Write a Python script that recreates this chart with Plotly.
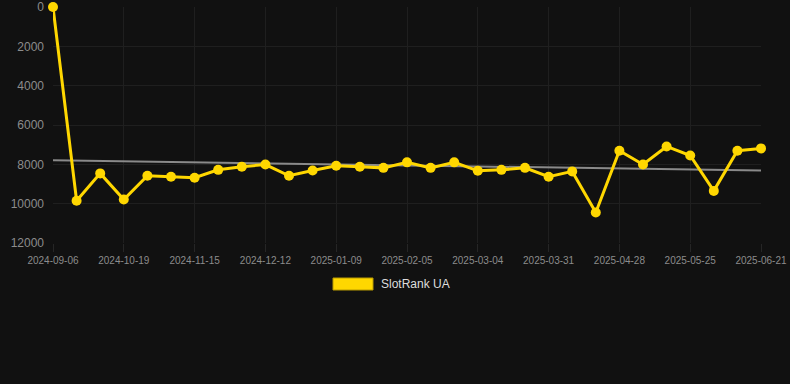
import plotly.graph_objects as go
import numpy as np

dates = ["2024-09-06","2024-09-20","2024-10-05","2024-10-19","2024-10-28","2024-11-06",
         "2024-11-15","2024-11-24","2024-12-03","2024-12-12","2024-12-21","2024-12-31",
         "2025-01-09","2025-01-18","2025-01-27","2025-02-05","2025-02-14","2025-02-23",
         "2025-03-04","2025-03-13","2025-03-22","2025-03-31","2025-04-09","2025-04-19",
         "2025-04-28","2025-05-07","2025-05-16","2025-05-25","2025-06-03","2025-06-12",
         "2025-06-21"]
rank = [0, 9850, 8460, 9790, 8580, 8630, 8680, 8280, 8120, 8010, 8580, 8310,
        8070, 8120, 8180, 7900, 8180, 7900, 8330, 8280, 8180, 8630, 8360, 10450,
        7310, 8010, 7090, 7550, 9350, 7310, 7190]
series_name = "SlotRank UA"
yticks = [0, 2000, 4000, 6000, 8000, 10000, 12000]
ytick_text = ["0", "2000", "4000", "6000", "8000", "10000", "12000"]

idx = np.arange(len(rank))
slope, intercept = np.polyfit(idx, rank, 1)
trend = slope * idx + intercept

fig = go.Figure()
fig.add_trace(go.Scatter(x=dates, y=trend, mode="lines",
                         line=dict(color="#8a8a8a", width=2), showlegend=False, hoverinfo="skip"))
fig.add_trace(go.Scatter(x=dates, y=rank, mode="lines+markers", name=series_name,
                         line=dict(color="#FFD700", width=3), cliponaxis=False,
                         marker=dict(color="#FFD700", size=10), showlegend=False))

fig.update_layout(
    width=790, height=384,
    paper_bgcolor="#111111", plot_bgcolor="#111111",
    margin=dict(l=53, r=29, t=7, b=141),
    font=dict(family="Liberation Sans, Arial, sans-serif", color="#8c8c8c"),
    showlegend=False,
)
fig.update_xaxes(type="category", range=[0, len(dates) - 1], automargin=False,
                 tickmode="array", tickvals=dates[::3], ticktext=dates[::3],
                 tickfont=dict(size=10, color="#8c8c8c"), tickangle=0,
                 showgrid=True, gridcolor="#1f1f1f", gridwidth=1,
                 zeroline=False, showline=False, ticks="outside", ticklen=8, tickcolor="#262626")
fig.update_yaxes(range=[12000, 0], tickmode="array", tickvals=yticks, ticktext=ytick_text,
                 automargin=False,
                 tickfont=dict(size=12, color="#8c8c8c"),
                 showgrid=True, gridcolor="#1f1f1f", gridwidth=1,
                 zeroline=False, showline=False, ticks="", ticklabelstandoff=8)

# legend
fig.add_shape(type="rect", xref="paper", yref="paper",
              x0=(333 - 53) / 708, x1=(373 - 53) / 708,
              y0=(243 - 290) / 236, y1=(243 - 278) / 236,
              fillcolor="#FFD700", line=dict(color="#b89a00", width=1))
fig.add_annotation(text=series_name, xref="paper", yref="paper",
                   x=(379 - 53) / 708, y=(243 - 284) / 236, xanchor="left", yanchor="middle",
                   showarrow=False, font=dict(size=12, color="#dddddd"))

fig.write_html("out.html", config={"displayModeBar": False},
               post_script="document.body.style.margin='0';document.body.style.background='#111111';")
